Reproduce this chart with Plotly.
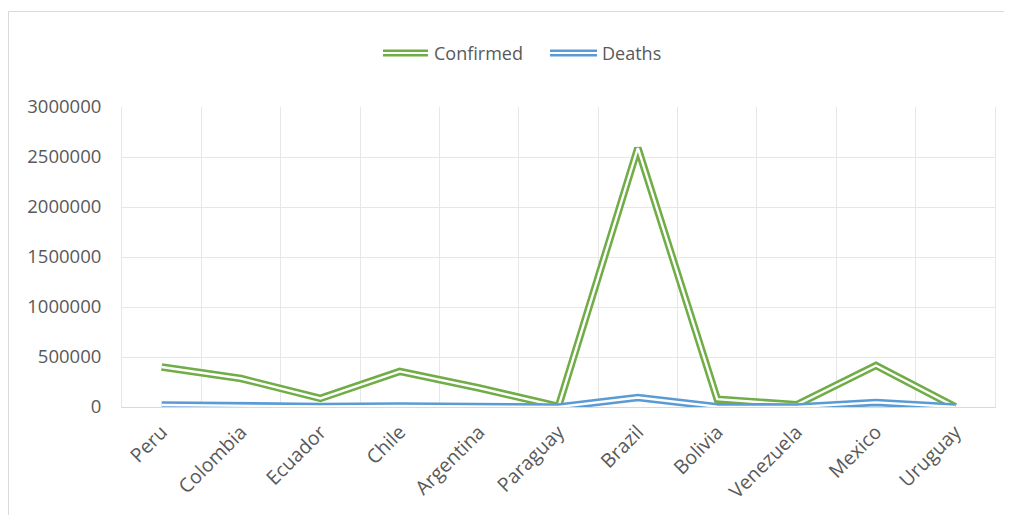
import plotly.graph_objects as go

countries = ["Peru", "Colombia", "Ecuador", "Chile", "Argentina", "Paraguay",
             "Brazil", "Bolivia", "Venezuela", "Mexico", "Uruguay"]
confirmed = [400000, 285000, 86000, 356000, 190000, 6000,
             2590000, 78000, 22000, 415000, 1300]
deaths = [20000, 10000, 5700, 9500, 3600, 70,
          95000, 3000, 190, 46000, 35]
y_ticks = [0, 500000, 1000000, 1500000, 2000000, 2500000, 3000000]

GREEN = "#70AD47"
BLUE = "#5B9BD5"
GRAY_TXT = "#595959"
GRID = "#E7E7E7"
FONT = "Open Sans"

OFF = 8  # page body margin
W, H = 1012 - OFF, 515 - OFF
L, R, T, B = 122 - OFF, 17, 107 - OFF, 108
PW, PH = W - L - R, H - T - B

def px(x):
    return (x - OFF - L) / PW

def py(y):
    return (H - B - (y - OFF)) / PH

fig = go.Figure()
for name, vals, col in [("Confirmed", confirmed, GREEN), ("Deaths", deaths, BLUE)]:
    fig.add_trace(go.Scatter(x=countries, y=vals, mode="lines", name=name,
                             line=dict(color=col, width=7.5), showlegend=False,
                             cliponaxis=False))
    fig.add_trace(go.Scatter(x=countries, y=vals, mode="lines", name=name,
                             line=dict(color="white", width=2.4), showlegend=False,
                             hoverinfo="skip", cliponaxis=False))

shapes = [
    dict(type="rect", xref="paper", yref="paper",
         x0=px(8.5), x1=px(1030), y0=py(530), y1=py(11.5),
         line=dict(color="#D9D9D9", width=1), fillcolor="rgba(0,0,0,0)", layer="below"),
]
annotations = []
for (x0, x1, tx, label, col) in [(383, 428, 432, "Confirmed", GREEN),
                                 (550, 597, 600, "Deaths", BLUE)]:
    shapes.append(dict(type="line", xref="paper", yref="paper",
                       x0=px(x0), x1=px(x1), y0=py(53), y1=py(53),
                       line=dict(color=col, width=7)))
    shapes.append(dict(type="line", xref="paper", yref="paper",
                       x0=px(x0), x1=px(x1), y0=py(53), y1=py(53),
                       line=dict(color="white", width=2.2)))
    annotations.append(dict(x=px(tx), y=py(53), xref="paper", yref="paper",
                            text=label, showarrow=False, xanchor="left", yanchor="middle",
                            font=dict(family=FONT, size=18, color=GRAY_TXT)))

fig.update_layout(
    width=W, height=H,
    margin=dict(l=L, r=R, t=T, b=B),
    paper_bgcolor="white", plot_bgcolor="white",
    showlegend=False,
    shapes=shapes, annotations=annotations,
    font=dict(family=FONT, size=18, color=GRAY_TXT),
    xaxis=dict(type="category", range=[-0.5, 10.5], tickson="boundaries",
               showgrid=True, gridcolor=GRID, gridwidth=1,
               showline=True, linecolor="#D9D9D9", linewidth=1,
               ticks="", tickangle=-45, ticklabelstandoff=5,
               tickfont=dict(family=FONT, size=19.5, color=GRAY_TXT)),
    yaxis=dict(range=[0, 3000000], tickvals=y_ticks,
               ticktext=[str(v) for v in y_ticks],
               showgrid=True, gridcolor=GRID, gridwidth=1,
               zeroline=False, showline=True, linecolor=GRID, mirror=True,
               ticks="", ticklen=0, ticklabelstandoff=16,
               tickfont=dict(family=FONT, size=18.5, color=GRAY_TXT)),
)

fig.write_html("out.html")
